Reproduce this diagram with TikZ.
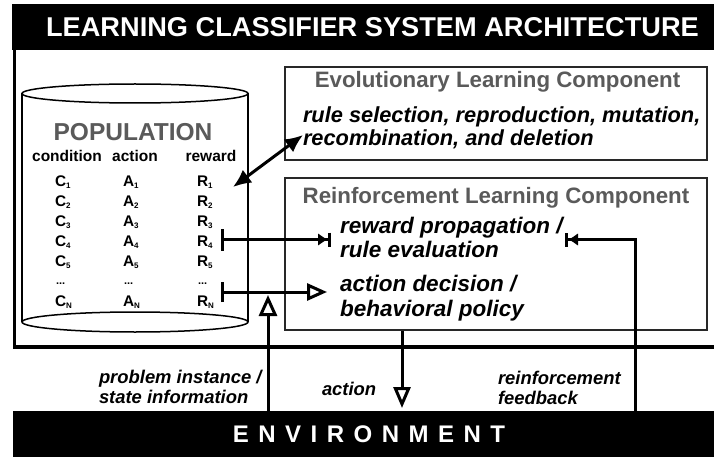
\documentclass[tikz,border=0pt]{standalone}
\usepackage{fontspec}
\setmainfont{Liberation Sans}
\usetikzlibrary{arrows.meta}
\definecolor{lcsgray}{RGB}{90,90,90}
\definecolor{lcsline}{RGB}{40,40,40}
\newcommand\lcsfs[2]{\fontsize{#1}{#2}\selectfont}
\newcommand\lcssub[1]{\raisebox{-2pt}{\fontsize{8}{8}\selectfont #1}}
\begin{document}
\begin{tikzpicture}[x=1pt,y=-1pt,
  lbl/.style={inner sep=0pt, outer sep=0pt},
  bar/.style={fill=black, draw=none, inner sep=0pt, text=white},
  cell/.style={lbl, anchor=base west, font=\bfseries\lcsfs{15.4}{18}},
  hdr/.style={lbl, anchor=base, font=\bfseries\lcsfs{15.5}{18}},
  comptitle/.style={lbl, anchor=base, text=lcsgray, font=\bfseries\lcsfs{22.3}{26}},
  compbox/.style={draw=lcsline, line width=2pt, minimum width=422pt, inner sep=0pt},
  tasktxt/.style={lbl, anchor=base west, align=left},
  envtxt/.style={lbl, anchor=base west, align=left, font=\bfseries\itshape\lcsfs{18.4}{20}},
  flow/.style={line width=3pt},
]
\clip (0,0) rectangle (714,457);
\fill[white] (0,0) rectangle (714,457);

% title bar
\node[bar, minimum width=721pt, minimum height=46pt,
      font=\bfseries\lcsfs{27.2}{30}] (title) at (372.5,27)
      {LEARNING CLASSIFIER SYSTEM ARCHITECTURE};

% outer frame
\draw[line width=3.3pt] (720,347) -- (14.3,347) -- (14.3,49);

% population cylinder
\draw[line width=1.5pt] (135,93.5) ellipse [x radius=113, y radius=9.5];
\draw[line width=1.5pt] (22,93.5) -- (22,322) (248,93.5) -- (248,322);
\draw[line width=1.5pt] (135,322) ellipse [x radius=113, y radius=10];

\node[lbl, anchor=base, text=lcsgray, font=\bfseries\lcsfs{24.5}{28}] (pop) at (133,141) {POPULATION};
\node[hdr] (hcond) at (67,161.5) {condition};
\node[hdr] (hact) at (135,161.5) {action};
\node[hdr] (hrew) at (211,161.5) {reward};

\foreach \i/\yy in {1/186,2/206,3/226,4/246,5/266} {
  \node[cell] (c\i) at (55,\yy) {C\lcssub{\i}};
  \node[cell] (a\i) at (123,\yy) {A\lcssub{\i}};
  \node[cell] (r\i) at (197,\yy) {R\lcssub{\i}};
}
\node[cell, font=\bfseries\lcsfs{11}{12}] (cdots) at (56,284) {...};
\node[cell, font=\bfseries\lcsfs{11}{12}] (adots) at (124,284) {...};
\node[cell, font=\bfseries\lcsfs{11}{12}] (rdots) at (198,284) {...};
\node[cell] (cn) at (55,306) {C\lcssub{N}};
\node[cell] (an) at (123,306) {A\lcssub{N}};
\node[cell] (rn) at (197,306) {R\lcssub{N}};

% component boxes
\node[compbox, minimum height=93pt] (evo) at (496,113.5) {};
\node[compbox, minimum height=152pt] (rl) at (496,254) {};

\node[comptitle] (evot) at (497.5,88) {Evolutionary Learning Component};
\node[tasktxt, font=\bfseries\itshape\lcsfs{21.8}{22.5}] (evotask) at (303,145.5)
  {rule selection, reproduction, mutation,\\recombination, and deletion};

\node[comptitle] (rlt) at (496,203.3) {Reinforcement Learning Component};
\node[tasktxt, font=\bfseries\itshape\lcsfs{22.5}{24.5}] (rp) at (340,257.5)
  {reward propagation /\\rule evaluation};
\node[tasktxt, font=\bfseries\itshape\lcsfs{22.5}{25}] (ad) at (340,316.7)
  {action decision /\\behavioral policy};

% environment bar
\node[bar, minimum width=712pt, minimum height=46pt,
      font=\bfseries\lcsfs{24}{28}] (env) at (369,434)
  {E\kern9.5pt N\kern9.5pt V\kern9.5pt I\kern9.5pt R\kern9.5pt O\kern9.5pt N\kern9.5pt M\kern9.5pt E\kern9.5pt N\kern9.5pt T};

% labels near the environment
\node[envtxt] (lprob) at (99,403) {problem instance /\\state information};
\node[envtxt] (lact) at (322,395) {action};
\node[envtxt] (lfb) at (498,404) {reinforcement\\feedback};

% connector coordinates
\coordinate (poprw) at (233,187);
\coordinate (evoin) at (303,135);
\coordinate (r4bar) at (221,239.5);
\coordinate (rpw) at (331,239.5);
\coordinate (rnbar) at (221,292);
\coordinate (adw) at (327,292);
\coordinate (upx) at (268,295);
\coordinate (actx) at (402,408);
\coordinate (fbx) at (635.5,239.5);
\coordinate (rpe) at (565,239.5);

% connectors
\draw[flow, {Latex[length=18pt,width=16pt]}-{Latex[length=18pt,width=16pt]}] (poprw) -- (evoin);
\draw[flow, {Bar[width=22pt]}-{Latex[length=10pt,width=13pt,sep=0pt]Bar[width=14pt]}] (r4bar) -- (rpw);
\draw[flow, {Bar[width=20pt]}-{Triangle[open,length=20pt,width=17pt,fill=white]}] (rnbar) -- (adw);
\draw[flow, -{Triangle[open,length=21pt,width=18pt,fill=white]}] (upx |- env.north) -- (upx);
\draw[flow, -{Triangle[open,length=21pt,width=17pt,fill=white]}] (rl.south -| actx) -- (actx);
\draw[flow, -{Latex[length=10pt,width=13pt,sep=0pt]Bar[width=14pt]}] (fbx |- env.north) -- (fbx) -- (rpe);
\end{tikzpicture}
\end{document}
